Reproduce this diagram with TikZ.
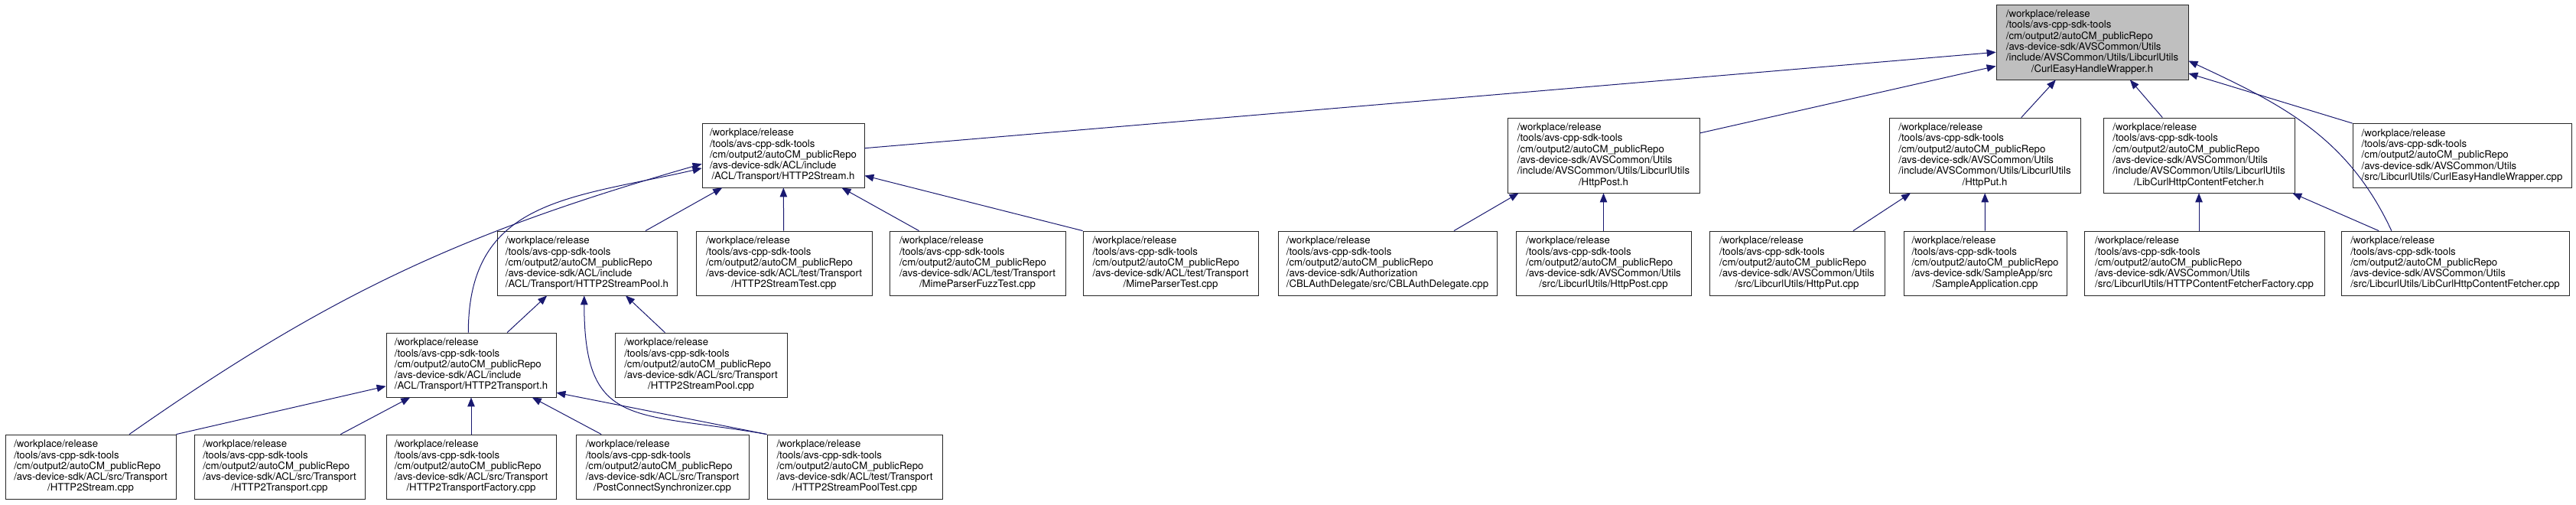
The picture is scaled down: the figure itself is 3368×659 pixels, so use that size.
\documentclass[tikz,border=0pt]{standalone}
\usepackage{fontspec}
\setmainfont{TeX Gyre Heros}
\usepackage{xcolor}
\usepackage{tikz}
\usetikzlibrary{arrows.meta, calc}

\definecolor{edgeblue}{HTML}{191970}
\definecolor{rootgray}{HTML}{BFBFBF}
\newcommand{\repo}{/workplace/release\\/tools/avs-cpp-sdk-tools\\/cm/output2/autoCM\_publicRepo}
\newcommand{\fname}[1]{\hfill#1\hfill\null}

\begin{document}
\begin{tikzpicture}[
    x=1pt, y=-1pt,
    filebox/.style={draw=black!85, line width=0.8pt, fill=white, align=left, inner sep=0pt, minimum height=84pt, font=\fontsize{13.2}{14.3}\selectfont},
    tall/.style={minimum height=98pt},
    dep/.style={draw=edgeblue, line width=1pt, -{Triangle[length=12pt, width=9.5pt]}}
]
\useasboundingbox (0,0) rectangle (3368,659);

% row 1
\node[filebox, tall, fill=rootgray, minimum width=251pt] (root) at (2735.5,55) {\repo\\/avs-device-sdk/AVSCommon/Utils\\/include/AVSCommon/Utils/LibcurlUtils\\\fname{/CurlEasyHandleWrapper.h}};

% row 2
\node[filebox, minimum width=212pt] (h2s) at (1024,203) {\repo\\/avs-device-sdk/ACL/include\\\fname{/ACL/Transport/HTTP2Stream.h}};
\node[filebox, tall, minimum width=251pt] (post) at (2096.5,203) {\repo\\/avs-device-sdk/AVSCommon/Utils\\/include/AVSCommon/Utils/LibcurlUtils\\\fname{/HttpPost.h}};
\node[filebox, tall, minimum width=250pt] (put) at (2595,203) {\repo\\/avs-device-sdk/AVSCommon/Utils\\/include/AVSCommon/Utils/LibcurlUtils\\\fname{/HttpPut.h}};
\node[filebox, tall, minimum width=250pt] (fetchh) at (2875,203) {\repo\\/avs-device-sdk/AVSCommon/Utils\\/include/AVSCommon/Utils/LibcurlUtils\\\fname{/LibCurlHttpContentFetcher.h}};
\node[filebox, minimum width=286pt] (curlcpp) at (3219,203.5) {\repo\\/avs-device-sdk/AVSCommon/Utils\\\fname{/src/LibcurlUtils/CurlEasyHandleWrapper.cpp}};

% row 3
\node[filebox, minimum width=235pt] (pool) at (767.5,344) {\repo\\/avs-device-sdk/ACL/include\\\fname{/ACL/Transport/HTTP2StreamPool.h}};
\node[filebox, minimum width=230pt] (stest) at (1025,344) {\repo\\/avs-device-sdk/ACL/test/Transport\\\fname{/HTTP2StreamTest.cpp}};
\node[filebox, minimum width=230pt] (fuzz) at (1278,344) {\repo\\/avs-device-sdk/ACL/test/Transport\\\fname{/MimeParserFuzzTest.cpp}};
\node[filebox, minimum width=229pt] (mime) at (1530.5,344) {\repo\\/avs-device-sdk/ACL/test/Transport\\\fname{/MimeParserTest.cpp}};
\node[filebox, minimum width=286pt] (cbl) at (1814,344) {\repo\\/avs-device-sdk/Authorization\\\fname{/CBLAuthDelegate/src/CBLAuthDelegate.cpp}};
\node[filebox, minimum width=229pt] (postcpp) at (2096.5,344) {\repo\\/avs-device-sdk/AVSCommon/Utils\\\fname{/src/LibcurlUtils/HttpPost.cpp}};
\node[filebox, minimum width=229pt] (putcpp) at (2349.5,344) {\repo\\/avs-device-sdk/AVSCommon/Utils\\\fname{/src/LibcurlUtils/HttpPut.cpp}};
\node[filebox, minimum width=213pt] (sample) at (2595.5,344) {\repo\\/avs-device-sdk/SampleApp/src\\\fname{/SampleApplication.cpp}};
\node[filebox, minimum width=314pt] (factory) at (2882,344) {\repo\\/avs-device-sdk/AVSCommon/Utils\\\fname{/src/LibcurlUtils/HTTPContentFetcherFactory.cpp}};
\node[filebox, minimum width=298pt] (fetchcpp) at (3210,344) {\repo\\/avs-device-sdk/AVSCommon/Utils\\\fname{/src/LibcurlUtils/LibCurlHttpContentFetcher.cpp}};

% row 4
\node[filebox, minimum width=222pt] (trans) at (616,477) {\repo\\/avs-device-sdk/ACL/include\\\fname{/ACL/Transport/HTTP2Transport.h}};
\node[filebox, minimum width=225pt] (poolcpp) at (916.5,477) {\repo\\/avs-device-sdk/ACL/src/Transport\\\fname{/HTTP2StreamPool.cpp}};

% row 5
\node[filebox, minimum width=223pt] (streamcpp) at (118.5,610) {\repo\\/avs-device-sdk/ACL/src/Transport\\\fname{/HTTP2Stream.cpp}};
\node[filebox, minimum width=223pt] (transcpp) at (365.5,610) {\repo\\/avs-device-sdk/ACL/src/Transport\\\fname{/HTTP2Transport.cpp}};
\node[filebox, minimum width=222pt] (tfactory) at (616,610) {\repo\\/avs-device-sdk/ACL/src/Transport\\\fname{/HTTP2TransportFactory.cpp}};
\node[filebox, minimum width=226pt] (sync) at (866,610) {\repo\\/avs-device-sdk/ACL/src/Transport\\\fname{/PostConnectSynchronizer.cpp}};
\node[filebox, minimum width=229pt] (pooltest) at (1117.5,610) {\repo\\/avs-device-sdk/ACL/test/Transport\\\fname{/HTTP2StreamPoolTest.cpp}};

% includes
\foreach \from/\to in {h2s.5/root.186, post.13/root.194, put.46/root.226, fetchh.134/root.315,
    curlcpp.north west/root.342, fetchcpp.157/fetchh.338, postcpp/post, cbl.26/post.204,
    putcpp.30/put.207, sample/put, pool.29/h2s.208, stest/h2s, fuzz.151/h2s.331,
    mime.north west/h2s.346, trans.42/pool.219, poolcpp.138/pool.320,
    streamcpp.north east/trans.194, transcpp.28/trans.208, tfactory/trans,
    sync.152/trans.332, pooltest.north west/trans.342}
  \draw[dep] (\from) -- (\to);
\draw[dep] (factory.north -| fetchh) -- (fetchh.south);
\draw[dep] (fetchcpp.153) to[out=115, in=-25] (root.349);
\draw[dep] (trans.95) to[out=90, in=193, looseness=1.2] (h2s.189);
\draw[dep] (streamcpp.40) to[out=35, in=196] (h2s.186);
\draw[dep] (pooltest.north west) to[out=170, in=-90, looseness=1.5] (pool.265);
\end{tikzpicture}
\end{document}
